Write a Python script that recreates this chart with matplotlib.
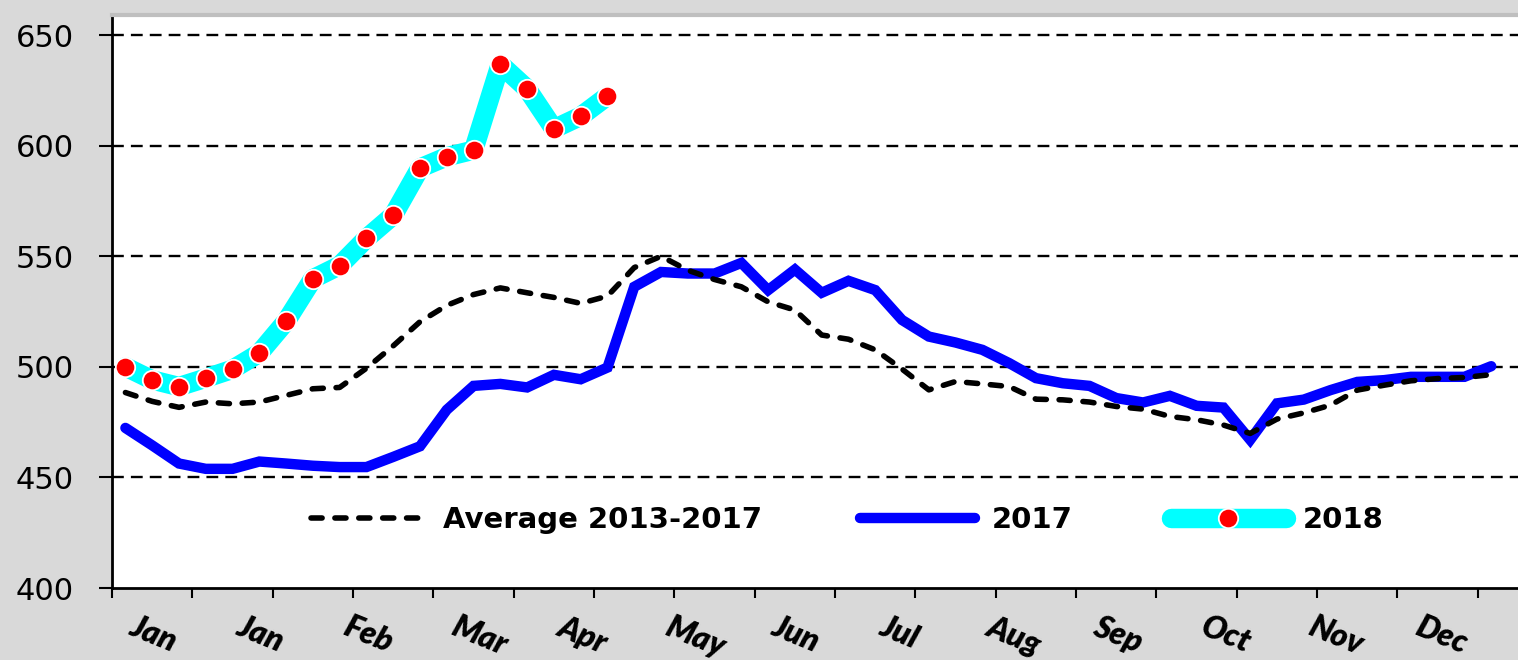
import matplotlib.pyplot as plt
import numpy as np

# weekly values, 52 weeks
avg_2013_2017 = [488.4, 484.4, 481.7, 484.1, 483.3, 484.1, 487.1, 490.1, 490.7, 499.4,
                 509.5, 520.4, 527.8, 532.7, 535.7, 533.5, 531.4, 528.7, 532.0, 544.9,
                 550.0, 543.7, 539.5, 536.2, 529.4, 525.7, 514.4, 512.5, 507.7, 499.0,
                 489.6, 493.4, 492.3, 491.1, 485.4, 485.1, 484.1, 482.1, 480.9, 477.6,
                 476.1, 473.7, 469.9, 476.4, 479.2, 482.7, 489.5, 491.7, 493.7, 494.7,
                 495.2, 496.5]
y2017 = [472.4, 464.5, 456.3, 453.9, 453.9, 457.2, 456.3, 455.3, 454.7, 454.7,
         459.3, 464.1, 480.6, 491.4, 492.3, 490.7, 496.4, 494.4, 499.7, 536.2,
         542.9, 542.2, 542.2, 547.0, 534.7, 544.0, 533.5, 538.9, 534.7, 521.2,
         513.7, 511.0, 507.7, 501.7, 494.9, 492.6, 491.4, 485.9, 483.9, 486.9,
         482.4, 481.6, 467.0, 483.5, 485.2, 489.5, 493.2, 494.0, 495.5, 495.5,
         495.5, 500.3]
y2018 = [500.0, 494.1, 491.1, 494.9, 498.9, 506.2, 520.6, 539.8, 545.8, 558.1,
         568.5, 589.9, 595.0, 598.0, 636.8, 625.7, 607.6, 613.3, 622.4]

month_labels = ["Jan", "Jan", "Feb", "Mar", "Apr", "May", "Jun",
                "Jul", "Aug", "Sep", "Oct", "Nov", "Dec"]
y_ticks = [400, 450, 500, 550, 600, 650]

weeks = np.arange(len(y2017))
weeks18 = np.arange(len(y2018))

fig = plt.figure(figsize=(15.18, 6.6), dpi=100, facecolor="#d9d9d9")
ax = fig.add_axes([0.0738, 0.109, 0.9262, 0.868])
ax.set_facecolor("white")

# gridlines
for v in y_ticks[1:]:
    ax.axhline(v, color="black", lw=1.7, ls=(0, (5, 3)), zorder=1)

ax.plot(weeks, y2017, color="#0000ff", lw=7.5, solid_joinstyle="miter",
        solid_capstyle="round", zorder=3, label="2017")
ax.plot(weeks, avg_2013_2017, color="black", lw=4, ls=(0, (2.0, 2.3)),
        dash_capstyle="round", zorder=4, label="Average 2013-2017")
ax.plot(weeks18, y2018, color="#00ffff", lw=14, marker="o", ms=14,
        mfc="#ff0000", mec="white", mew=1.3, solid_capstyle="round",
        zorder=5, label="2018")

ax.set_xlim(-0.5, 52.0)
ax.set_ylim(400, 659)

ax.set_yticks(y_ticks)
ax.set_yticklabels([str(v) for v in y_ticks], fontsize=22, family="DejaVu Sans")
ax.tick_params(axis="y", direction="out", length=9.5, width=1.5, pad=18)

# week boundary ticks every 3 weeks, month labels every 4 weeks
ax.set_xticks(np.arange(-0.5, 51, 3))
ax.set_xticklabels([])
ax.tick_params(axis="x", which="major", direction="out", length=7, width=1.5)
ax.set_xticks(np.arange(0, 52, 4), minor=True)
ax.set_xticklabels(month_labels, minor=True, rotation=-22, ha="left",
                   fontsize=23, fontweight="heavy", style="italic", family="Lato")
ax.tick_params(axis="x", which="minor", length=0, pad=17)

for s in ["left", "bottom"]:
    ax.spines[s].set_color("black")
    ax.spines[s].set_linewidth(2)
ax.spines["right"].set_visible(False)
ax.spines["top"].set_color("#bfbfbf")
ax.spines["top"].set_linewidth(3)

handles, labels = ax.get_legend_handles_labels()
order = [1, 0, 2]
leg = ax.legend([handles[i] for i in order], [labels[i] for i in order],
                loc="center", bbox_to_anchor=(0.523, 0.119), ncol=3,
                frameon=False, numpoints=1, handlelength=3.95,
                handletextpad=0.58, columnspacing=3.35,
                prop={"family": "DejaVu Sans", "weight": "bold", "size": 21})

fig.savefig("out.png", dpi=100, facecolor=fig.get_facecolor())
